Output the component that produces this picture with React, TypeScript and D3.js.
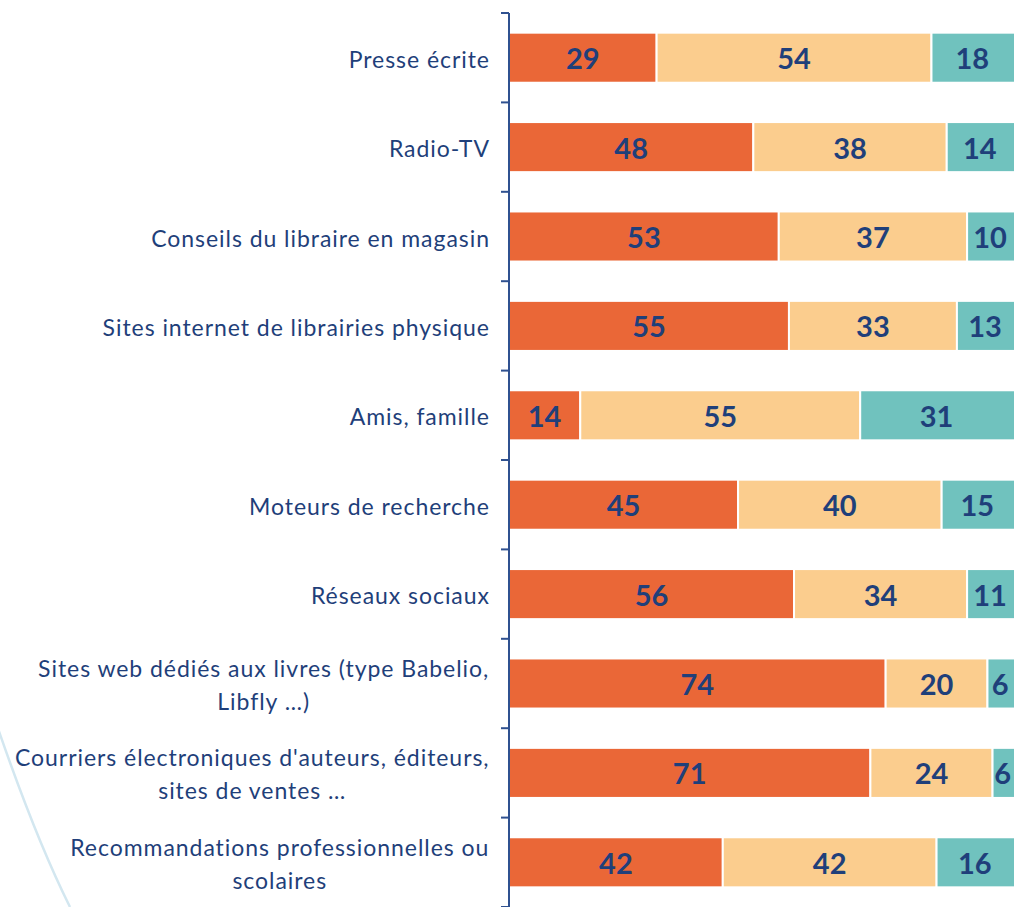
import React from "react";
import * as d3 from "d3";

const categories = [
  "Presse écrite",
  "Radio-TV",
  "Conseils du libraire en magasin",
  "Sites internet de librairies physique",
  "Amis, famille",
  "Moteurs de recherche",
  "Réseaux sociaux",
  "Sites web dédiés aux livres (type Babelio, Libfly …)",
  "Courriers électroniques d'auteurs, éditeurs, sites de ventes …",
  "Recommandations professionnelles ou scolaires",
];

const categoryLines = [
  ["Presse écrite"],
  ["Radio-TV"],
  ["Conseils du libraire en magasin"],
  ["Sites internet de librairies physique"],
  ["Amis, famille"],
  ["Moteurs de recherche"],
  ["Réseaux sociaux"],
  ["Sites web dédiés aux livres (type Babelio,", "Libfly …)"],
  ["Courriers électroniques d'auteurs, éditeurs,", "sites de ventes …"],
  ["Recommandations professionnelles ou", "scolaires"],
];

const seriesA = [29, 48, 53, 55, 14, 45, 56, 74, 71, 42];
const seriesB = [54, 38, 37, 33, 55, 40, 34, 20, 24, 42];
const seriesC = [18, 14, 10, 13, 31, 15, 11, 6, 6, 16];

const seriesKeys = ["a", "b", "c"];
const seriesColors = ["#EA6737", "#FBCD8E", "#70C2BE"];

const W = 1014;
const H = 907;
const AXIS_X = 509;
const LABEL_X = 489;
const TEXT = "#1F3F7A";
const LABEL_FONT = "23px Lato, 'Open Sans', sans-serif";
const LABEL_SIZE = 23;
const LETTER = 0.95;

let ctx: CanvasRenderingContext2D | null = null;
function measure(s: string): number {
  if (!ctx) {
    const c = document.createElement("canvas");
    ctx = c.getContext("2d");
  }
  if (!ctx) return s.length * 11;
  ctx.font = LABEL_FONT;
  return ctx.measureText(s).width + LETTER * s.length;
}

export default function App() {
  const rows = categories.map((c, i) => ({
    cat: c,
    a: seriesA[i],
    b: seriesB[i],
    c: seriesC[i],
  }));
  const stacked = d3.stack<any>().keys(seriesKeys)(rows);

  const x = d3.scaleLinear().domain([0, 100]).range([AXIS_X, 1018]);
  const y = d3
    .scaleBand<string>()
    .domain(categories)
    .range([13, H])
    .paddingInner(0.44)
    .paddingOuter(0.22);
  const step = y.step();
  const ticks = d3.range(categories.length + 1).map((i) => 13 + i * step);

  const arc = d3.path();
  arc.moveTo(-10, 705);
  arc.quadraticCurveTo(33, 833, 70, 907);

  return (
    <svg
      width={W}
      height={H}
      style={{ position: "absolute", left: 0, top: 0, background: "#fff" }}
      fontFamily="Lato, 'Open Sans', sans-serif"
    >
      <path d={arc.toString()} fill="none" stroke="#D3E7F0" strokeWidth={2.5} />
      {stacked.map((s, si) =>
        s.map((d, i) => {
          const v = d[1] - d[0];
          const x0 = x(d[0]);
          const x1 = x(d[1]);
          const yy = y(categories[i])!;
          const lx = (x0 + Math.min(x1, W - 1)) / 2;
          return (
            <g key={`${si}-${i}`}>
              <rect
                x={x0}
                y={yy}
                width={x1 - x0}
                height={y.bandwidth()}
                fill={seriesColors[si]}
                stroke="#fff"
                strokeWidth={2}
              />
              <text
                x={lx}
                y={yy + y.bandwidth() / 2 + 1}
                dy="0.36em"
                textAnchor="middle"
                fontWeight="bold"
                fontSize={29}
                fill={TEXT}
              >
                {v}
              </text>
            </g>
          );
        })
      )}
      <line x1={AXIS_X} x2={AXIS_X} y1={13} y2={H} stroke="#2F5190" strokeWidth={2} />
      {ticks.map((t, i) => (
        <line key={i} x1={AXIS_X - 8} x2={AXIS_X} y1={t} y2={t} stroke="#2F5190" strokeWidth={2} />
      ))}
      {categories.map((c, i) => {
        const lines = categoryLines[i];
        const cy = y(c)! + y.bandwidth() / 2 + 2;
        const lh = 33;
        const start = cy - ((lines.length - 1) * lh) / 2;
        const maxW = Math.max(...lines.map(measure));
        const single = lines.length === 1;
        const cx = single ? LABEL_X + LETTER : LABEL_X - maxW / 2 + LETTER / 2;
        return (
          <text
            key={c}
            textAnchor={single ? "end" : "middle"}
            fontSize={LABEL_SIZE}
            letterSpacing={LETTER}
            fill={TEXT}
          >
            {lines.map((l, li) => (
              <tspan key={li} x={cx} y={start + li * lh} dy="0.35em">
                {l}
              </tspan>
            ))}
          </text>
        );
      })}
    </svg>
  );
}
